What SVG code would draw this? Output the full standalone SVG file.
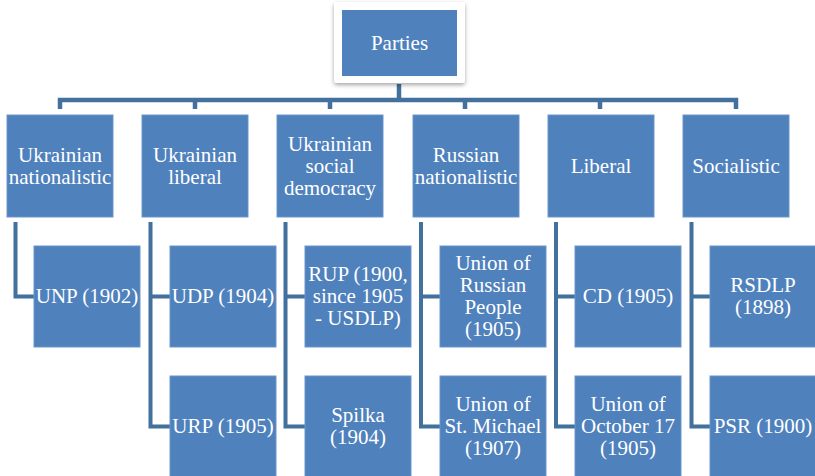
<svg xmlns="http://www.w3.org/2000/svg" width="815" height="476" viewBox="0 0 815 476">
<defs>
<filter id="sh" x="-20%" y="-20%" width="140%" height="150%">
<feDropShadow dx="0" dy="2" stdDeviation="2" flood-color="#000" flood-opacity="0.35"/>
</filter>
</defs>
<style>
.box{fill:#4F81BD;stroke:#6B95CB;stroke-width:1}
.t{font-size:21px;fill:#fff;text-anchor:middle}
.c{fill:none;stroke:#41719C;stroke-width:4.5;stroke-linejoin:miter}
.cc{fill:none;stroke:#41719C;stroke-width:4}
</style>
<rect width="815" height="476" fill="#fff"/>
<g id="connectors">
<path class="c" d="M399 84V100M60 109V100H736V109M195 100V109M330 100V109M465 100V109M600 100V109"/>
<path class="cc" d="M15.5 222V296.5H34"/>
<path class="cc" d="M150.5 222V426.5H170M150.5 296.5H170"/>
<path class="cc" d="M285.5 222V426.5H305M285.5 296.5H305"/>
<path class="cc" d="M421 222V426.5H440M421 296.5H440"/>
<path class="cc" d="M556 222V426.5H575M556 296.5H575"/>
<path class="cc" d="M691.5 222V426.5H710M691.5 296.5H710"/>
</g>
<g font-family="Liberation Serif, Times New Roman, DejaVu Serif, serif">
<g id="parties">
<rect x="334" y="2" width="131" height="81" rx="3" fill="#fff" filter="url(#sh)"/>
<rect x="342" y="10" width="115" height="66" fill="#4F81BD"/>
<text class="t" x="399.5" y="50">Parties</text>
</g>
<g id="ukr-nationalistic">
<rect class="box" x="7" y="115" width="106" height="102"/>
<text class="t" x="60" y="161.5">Ukrainian</text>
<text class="t" x="60" y="183.5">nationalistic</text>
</g>
<g id="ukr-liberal">
<rect class="box" x="142" y="115" width="106" height="102"/>
<text class="t" x="195" y="161.5">Ukrainian</text>
<text class="t" x="195" y="183.5">liberal</text>
</g>
<g id="ukr-social-democracy">
<rect class="box" x="277" y="115" width="106" height="102"/>
<text class="t" x="330" y="150.5">Ukrainian</text>
<text class="t" x="330" y="172.5">social</text>
<text class="t" x="330" y="194.5">democracy</text>
</g>
<g id="rus-nationalistic">
<rect class="box" x="413" y="115" width="106" height="102"/>
<text class="t" x="466" y="161.5">Russian</text>
<text class="t" x="466" y="183.5">nationalistic</text>
</g>
<g id="liberal">
<rect class="box" x="548" y="115" width="106" height="102"/>
<text class="t" x="601" y="172.5">Liberal</text>
</g>
<g id="socialistic">
<rect class="box" x="683" y="115" width="106" height="102"/>
<text class="t" x="736" y="172.5">Socialistic</text>
</g>
<g id="unp">
<rect class="box" x="34" y="246" width="106" height="101"/>
<text class="t" x="87" y="303">UNP (1902)</text>
</g>
<g id="udp">
<rect class="box" x="170" y="246" width="106" height="101"/>
<text class="t" x="223" y="303">UDP (1904)</text>
</g>
<g id="urp">
<rect class="box" x="170" y="376" width="106" height="101"/>
<text class="t" x="223" y="433">URP (1905)</text>
</g>
<g id="rup">
<rect class="box" x="305" y="246" width="106" height="101"/>
<text class="t" x="358" y="281">RUP (1900,</text>
<text class="t" x="358" y="303">since 1905</text>
<text class="t" x="358" y="325">- USDLP)</text>
</g>
<g id="spilka">
<rect class="box" x="305" y="376" width="106" height="101"/>
<text class="t" x="358" y="422">Spilka</text>
<text class="t" x="358" y="444">(1904)</text>
</g>
<g id="union-russian-people">
<rect class="box" x="440" y="246" width="106" height="101"/>
<text class="t" x="493" y="270">Union of</text>
<text class="t" x="493" y="292">Russian</text>
<text class="t" x="493" y="314">People</text>
<text class="t" x="493" y="336">(1905)</text>
</g>
<g id="union-st-michael">
<rect class="box" x="440" y="376" width="106" height="101"/>
<text class="t" x="493" y="411">Union of</text>
<text class="t" x="493" y="433">St. Michael</text>
<text class="t" x="493" y="455">(1907)</text>
</g>
<g id="cd">
<rect class="box" x="575" y="246" width="106" height="101"/>
<text class="t" x="628" y="303">CD (1905)</text>
</g>
<g id="union-october-17">
<rect class="box" x="575" y="376" width="106" height="101"/>
<text class="t" x="628" y="411">Union of</text>
<text class="t" x="628" y="433">October 17</text>
<text class="t" x="628" y="455">(1905)</text>
</g>
<g id="rsdlp">
<rect class="box" x="710" y="246" width="106" height="101"/>
<text class="t" x="763" y="292">RSDLP</text>
<text class="t" x="763" y="314">(1898)</text>
</g>
<g id="psr">
<rect class="box" x="710" y="376" width="106" height="101"/>
<text class="t" x="763" y="433">PSR (1900)</text>
</g>
</g>
</svg>
